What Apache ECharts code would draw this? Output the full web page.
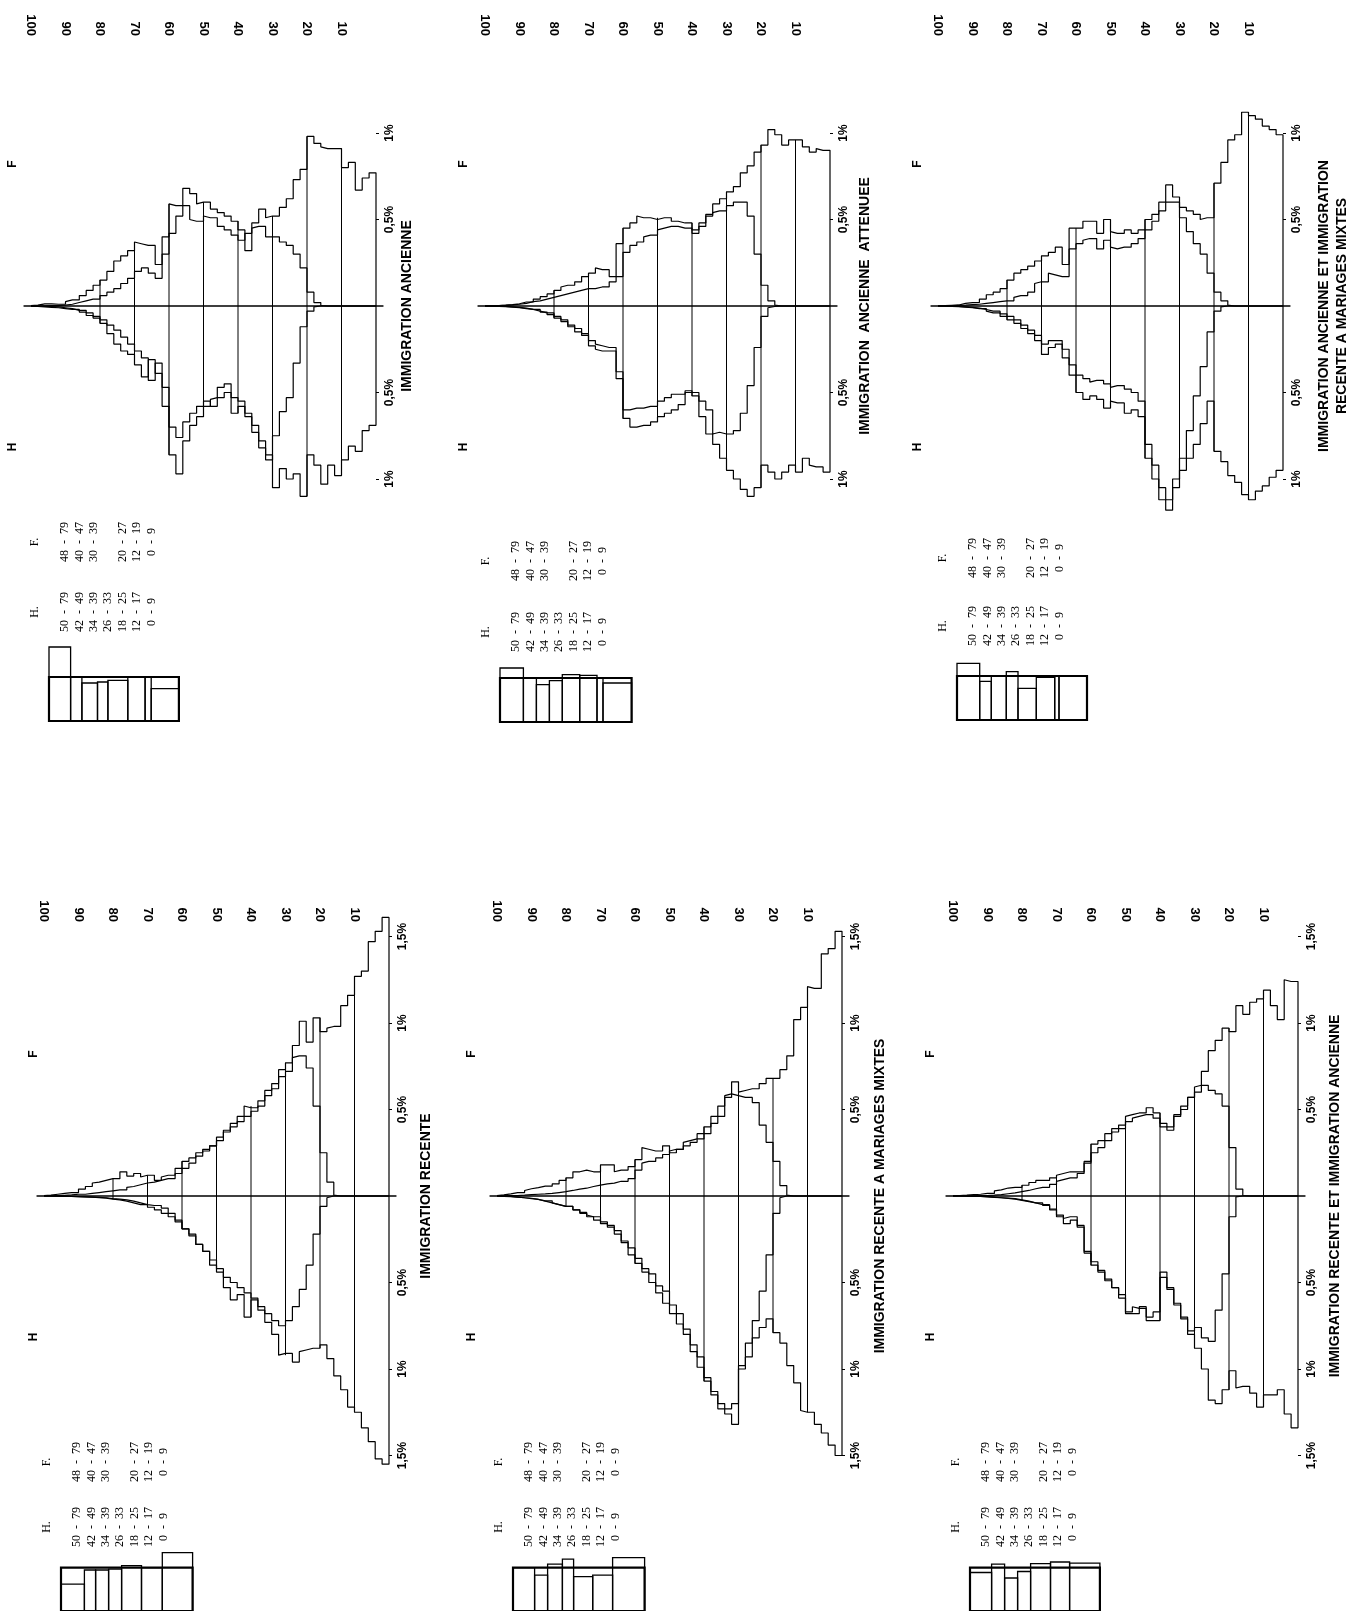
<!DOCTYPE html>
<html>
<head>
<meta charset="utf-8">
<script src="https://cdn.jsdelivr.net/npm/echarts@6/dist/echarts.min.js"></script>
<style>
  html, body { margin: 0; padding: 0; background: #fff; }
  #chart { width: 1357px; height: 1611px; }
</style>
</head>
<body>
<div id="chart"></div>
<script>
// start of each 2-year age class
const ageBins = [0,2,4,6,8,10,12,14,16,18,20,22,24,26,28,30,32,34,36,38,40,42,44,46,48,
  50,52,54,56,58,60,62,64,66,68,70,72,74,76,78,80,82,84,86,88,90,92,94,96,98];
const ageTickLabels = [10,20,30,40,50,60,70,80,90,100];
const decadeAges = [10,20,30,40,50,60,70,80];
const pctTicksTop = [-1,-0.5,0.5,1];
const pctTicksBottom = [-1.5,-1,-0.5,0.5,1,1.5];

// share of each age class, in %. *1 = population with children, *2 = immigrant cohort
const ancF1 = [0.77,0.74,0.67,0.83,0.80,0.91,0.91,0.92,0.94,0.98,0.79,0.73,0.62,0.57,0.52,0.51,0.56,0.48,0.32,0.44,
  0.49,0.52,0.54,0.56,0.60,0.59,0.65,0.68,0.58,0.59,0.40,0.24,0.35,0.36,0.37,0.32,0.29,0.26,0.20,0.15,
  0.12,0.09,0.06,0.035,0.025,0.01,0.012,0.012,0.005,0.003];
const ancF2 = [0,0,0,0,0,0,0,0.003,0.02,0.08,0.22,0.30,0.35,0.37,0.40,0.40,0.46,0.45,0.42,0.38,
  0.41,0.44,0.46,0.51,0.52,0.49,0.50,0.58,0.52,0.42,0.30,0.16,0.19,0.22,0.20,0.16,0.13,0.10,0.08,0.06,
  0.04,0.03,0.02,0.01,0.005,0.003,0.002,0.001,0,0];
const ancH1 = [0.69,0.72,0.84,0.81,0.89,0.98,0.92,1.03,0.92,0.86,1.10,0.97,1.00,0.94,1.05,0.86,0.82,0.73,0.64,0.58,
  0.62,0.50,0.53,0.54,0.58,0.64,0.69,0.78,0.97,0.86,0.58,0.39,0.31,0.41,0.34,0.28,0.26,0.22,0.16,0.10,
  0.07,0.055,0.035,0.02,0.015,0.01,0.008,0.005,0.003,0.002];
const ancH2 = [0,0,0,0,0,0,0,0,0.005,0.03,0.12,0.33,0.53,0.61,0.75,0.89,0.78,0.69,0.62,0.55,
  0.53,0.45,0.47,0.58,0.55,0.58,0.62,0.67,0.76,0.70,0.47,0.33,0.43,0.30,0.26,0.22,0.18,0.14,0.11,0.08,
  0.06,0.04,0.025,0.015,0.01,0.005,0.003,0.002,0.001,0];

const attF1 = [0.90,0.91,0.89,0.92,0.96,0.96,0.93,0.99,1.02,0.93,0.89,0.81,0.77,0.69,0.66,0.62,0.59,0.53,0.48,0.44,
  0.48,0.49,0.49,0.51,0.50,0.51,0.51,0.52,0.48,0.45,0.36,0.17,0.21,0.22,0.19,0.17,0.14,0.12,0.11,0.09,
  0.07,0.054,0.04,0.023,0.013,0.008,0.005,0.003,0.002,0.001];
const attF2 = [0,0,0,0,0,0,0,0.005,0.03,0.12,0.30,0.52,0.60,0.60,0.58,0.55,0.54,0.52,0.46,0.42,
  0.45,0.46,0.46,0.45,0.44,0.41,0.40,0.37,0.35,0.31,0.17,0.14,0.11,0.10,0.10,0.09,0.08,0.07,0.06,0.05,
  0.04,0.03,0.025,0.015,0.01,0.006,0.004,0.002,0.001,0.001];
const attH1 = [0.96,0.93,0.92,0.88,0.96,0.92,0.96,1.00,0.96,0.92,1.05,1.10,1.06,1.00,0.95,0.88,0.80,0.74,0.64,0.50,
  0.50,0.57,0.60,0.62,0.64,0.67,0.69,0.70,0.70,0.65,0.42,0.26,0.26,0.25,0.23,0.17,0.15,0.12,0.09,0.07,
  0.05,0.035,0.02,0.015,0.01,0.006,0.004,0.002,0.001,0];
const attH2 = [0,0,0,0,0,0,0,0.003,0.01,0.06,0.24,0.46,0.62,0.72,0.74,0.73,0.74,0.60,0.55,0.52,
  0.49,0.51,0.51,0.53,0.55,0.58,0.59,0.59,0.60,0.60,0.38,0.24,0.23,0.22,0.20,0.16,0.13,0.11,0.08,0.06,
  0.04,0.03,0.02,0.012,0.008,0.005,0.003,0.002,0.001,0];

const ancMixF1 = [0.99,1.02,1.04,1.08,1.10,1.12,0.99,0.96,0.83,0.71,0.51,0.50,0.53,0.55,0.57,0.63,0.70,0.60,0.53,0.50,
  0.44,0.42,0.44,0.42,0.43,0.50,0.42,0.49,0.49,0.45,0.45,0.24,0.34,0.31,0.29,0.26,0.23,0.21,0.19,0.15,
  0.10,0.08,0.065,0.04,0.02,0.015,0.006,0.004,0.002,0.001];
const ancMixF2 = [0,0,0,0,0,0,0,0.005,0.03,0.08,0.19,0.30,0.36,0.43,0.51,0.60,0.60,0.55,0.49,0.44,
  0.39,0.36,0.34,0.33,0.34,0.38,0.33,0.39,0.38,0.36,0.33,0.17,0.18,0.19,0.14,0.13,0.08,0.06,0.05,0.03,
  0.025,0.02,0.015,0.01,0.008,0.005,0.003,0.002,0.001,0];
const ancMixH1 = [0.95,0.99,1.04,1.07,1.12,1.09,1.02,0.98,0.90,0.84,0.55,0.68,0.80,0.88,0.95,1.05,1.18,1.12,1.00,0.88,
  0.64,0.60,0.62,0.56,0.55,0.59,0.54,0.52,0.54,0.50,0.40,0.30,0.22,0.24,0.28,0.20,0.16,0.13,0.10,0.08,
  0.06,0.04,0.03,0.015,0.01,0.006,0.004,0.002,0.001,0];
const ancMixH2 = [0,0,0,0,0,0,0,0,0.005,0.03,0.15,0.35,0.52,0.72,0.88,1.00,1.12,1.05,0.92,0.80,
  0.55,0.50,0.48,0.46,0.47,0.45,0.43,0.44,0.42,0.40,0.34,0.25,0.20,0.20,0.22,0.17,0.14,0.11,0.08,0.06,
  0.045,0.03,0.02,0.012,0.008,0.005,0.003,0.001,0,0];

const recF1 = [1.61,1.53,1.47,1.30,1.27,1.16,1.10,0.98,0.97,0.95,1.03,0.89,1.01,0.87,0.77,0.73,0.65,0.61,0.55,0.51,
  0.52,0.46,0.42,0.38,0.34,0.29,0.27,0.25,0.22,0.20,0.16,0.12,0.11,0.09,0.12,0.11,0.13,0.115,0.14,0.10,
  0.09,0.08,0.075,0.055,0.04,0.02,0.015,0.01,0.005,0.003];
const recF2 = [0,0,0,0,0,0,0,0.005,0.08,0.25,0.52,0.74,0.81,0.80,0.72,0.69,0.62,0.58,0.52,0.49,
  0.46,0.43,0.40,0.37,0.32,0.29,0.26,0.23,0.19,0.16,0.13,0.10,0.09,0.08,0.075,0.065,0.055,0.05,0.035,0.03,
  0.025,0.02,0.015,0.01,0.01,0.006,0.004,0.002,0.001,0];
const recH1 = [1.55,1.52,1.42,1.34,1.25,1.22,1.12,1.04,0.94,0.86,0.88,0.89,0.90,0.96,0.91,0.92,0.80,0.73,0.66,0.60,
  0.70,0.57,0.60,0.53,0.44,0.40,0.32,0.28,0.22,0.19,0.14,0.10,0.07,0.055,0.05,0.04,0.03,0.022,0.018,0.015,
  0.01,0.008,0.006,0.005,0.004,0.003,0.002,0.001,0,0];
const recH2 = [0,0,0,0,0,0,0,0,0.01,0.06,0.22,0.40,0.54,0.64,0.72,0.75,0.72,0.68,0.64,0.59,
  0.56,0.53,0.50,0.47,0.42,0.37,0.32,0.28,0.23,0.19,0.15,0.12,0.10,0.08,0.065,0.05,0.04,0.03,0.022,0.018,
  0.012,0.01,0.007,0.005,0.004,0.003,0.002,0.001,0,0];

const recMixF1 = [1.53,1.43,1.40,1.20,1.21,1.09,1.02,0.81,0.73,0.68,0.68,0.65,0.62,0.61,0.60,0.66,0.57,0.46,0.42,0.36,
  0.33,0.32,0.31,0.27,0.25,0.29,0.26,0.27,0.28,0.21,0.17,0.15,0.14,0.18,0.18,0.14,0.15,0.14,0.14,0.105,
  0.09,0.07,0.057,0.048,0.042,0.032,0.02,0.012,0.006,0.003];
const recMixF2 = [0,0,0,0,0,0,0,0.005,0.06,0.20,0.31,0.41,0.54,0.57,0.58,0.59,0.58,0.52,0.46,0.40,
  0.36,0.31,0.29,0.27,0.26,0.24,0.22,0.20,0.19,0.15,0.10,0.085,0.074,0.07,0.063,0.055,0.045,0.04,0.032,0.025,
  0.02,0.015,0.012,0.01,0.008,0.005,0.003,0.002,0.001,0];
const recMixH1 = [1.50,1.44,1.37,1.32,1.25,1.24,1.08,0.98,0.85,0.79,0.71,0.76,0.82,0.93,1.00,1.20,1.23,1.20,1.13,1.05,
  0.93,0.86,0.77,0.68,0.63,0.55,0.52,0.45,0.42,0.36,0.30,0.26,0.20,0.17,0.15,0.12,0.11,0.095,0.08,0.06,
  0.05,0.04,0.028,0.02,0.015,0.01,0.007,0.004,0.002,0.001];
const recMixH2 = [0,0,0,0,0,0,0,0,0.01,0.10,0.34,0.55,0.72,0.85,0.98,1.32,1.26,1.23,1.15,1.07,
  0.99,0.90,0.80,0.74,0.68,0.62,0.56,0.50,0.44,0.39,0.34,0.27,0.22,0.18,0.16,0.14,0.12,0.10,0.08,0.06,
  0.05,0.04,0.03,0.02,0.013,0.01,0.006,0.003,0.001,0];

const recAncF1 = [1.24,1.25,1.02,1.10,1.19,1.14,1.12,1.05,1.10,0.95,0.97,0.90,0.84,0.72,0.60,0.57,0.52,0.47,0.40,0.42,
  0.48,0.51,0.48,0.47,0.46,0.41,0.39,0.36,0.32,0.30,0.20,0.14,0.14,0.13,0.12,0.105,0.09,0.09,0.078,0.062,
  0.05,0.046,0.035,0.03,0.015,0.01,0.008,0.005,0.003,0.001];
const recAncF2 = [0,0,0,0,0,0,0,0.003,0.04,0.28,0.52,0.59,0.61,0.64,0.63,0.57,0.50,0.46,0.38,0.40,
  0.45,0.47,0.46,0.45,0.43,0.39,0.37,0.32,0.28,0.25,0.19,0.13,0.105,0.095,0.085,0.067,0.05,0.042,0.032,0.025,
  0.018,0.013,0.008,0.005,0.003,0.002,0.001,0,0,0];
const recAncH1 = [1.34,1.26,1.12,1.15,1.15,1.22,1.14,1.10,1.11,1.01,1.12,1.20,1.18,1.00,0.88,0.80,0.70,0.62,0.54,0.47,
  0.72,0.72,0.64,0.68,0.68,0.57,0.53,0.48,0.43,0.38,0.32,0.17,0.14,0.16,0.12,0.075,0.05,0.04,0.03,0.022,
  0.015,0.012,0.01,0.008,0.005,0.003,0.002,0.001,0,0];
const recAncH2 = [0,0,0,0,0,0,0,0,0.005,0.12,0.45,0.66,0.84,0.82,0.76,0.78,0.71,0.63,0.53,0.44,
  0.67,0.70,0.65,0.64,0.67,0.59,0.53,0.49,0.44,0.40,0.33,0.18,0.12,0.13,0.11,0.08,0.055,0.04,0.033,0.025,
  0.018,0.014,0.01,0.007,0.004,0.002,0.001,0,0,0];

// legend boxes: [from, to, height]; reference level is the full-width box
const legendRef = 44;
const legA = [[0,21.6,74],[21.6,32.9,44],[32.9,48.5,38],[48.5,58.9,39],[58.9,78.8,40.7],[78.8,96.1,44],[96.1,102.2,44],[102.2,129.9,32.3]];
const legB = [[0,23.4,54],[23.4,36.4,44],[36.4,49.4,37.3],[49.4,62.3,41.3],[62.3,79.7,47.3],[79.7,97,46.7],[97,103,44],[103,131.6,39]];
const legC = [[0,22.7,56.7],[22.7,34.3,38.7],[34.3,49.3,44.3],[49.3,61,48.3],[61,79.3,31.7],[79.3,97.7,42.7],[97.7,102,44.3],[102,130,44.3]];
const legD = [[0,23.4,27.3],[23.4,34.6,41.5],[34.6,47.6,41.5],[47.6,60.6,42.5],[60.6,80.5,46],[80.5,101.3,44],[101.3,131.6,59.2]];
const legE = [[0,21.6,44],[21.6,34.6,36.4],[34.6,49.4,47.5],[49.4,60.6,52.6],[60.6,79.7,34.9],[79.7,99.6,36.4],[99.6,131.6,54.1]];
const legF = [[0,21.6,39],[21.6,34.6,47.5],[34.6,47.6,33.4],[47.6,60.6,40],[60.6,80.5,48],[80.5,99.6,49.6],[99.6,129.9,48.5]];
const classesH = ['50 - 79','42 - 49','34 - 39','26 - 33','18 - 25','12 - 17','0 - 9'];
const classesF = ['48 - 79','40 - 47','30 - 39','','20 - 27','12 - 19','0 - 9'];

const SANS = '"Liberation Sans", Arial, sans-serif';
const SERIF = '"Liberation Serif", "Times New Roman", serif';
const PX_YEAR = 3.45, PX_PCT = 173, AGE_MIN = -2, AGE_MAX = 102;

const pyramids = [
  { title: ['IMMIGRATION ANCIENNE'], f: [ancF1, ancF2], h: [ancH1, ancH2], age0: 376, axisY: 306, span: 1.3, ticks: pctTicksTop, labelAxisY: 36, titleX: [407], letterX: 13 },
  { title: ['IMMIGRATION  ANCIENNE  ATTENUEE'], f: [attF1, attF2], h: [attH1, attH2], age0: 830, axisY: 306, span: 1.3, ticks: pctTicksTop, labelAxisY: 36, titleX: [865], letterX: 464 },
  { title: ['IMMIGRATION ANCIENNE ET IMMIGRATION', 'RECENTE A MARIAGES MIXTES'], f: [ancMixF1, ancMixF2], h: [ancMixH1, ancMixH2], age0: 1283, axisY: 306, span: 1.3, ticks: pctTicksTop, labelAxisY: 36, titleX: [1324, 1342], letterX: 918 },
  { title: ['IMMIGRATION RECENTE'], f: [recF1, recF2], h: [recH1, recH2], age0: 389, axisY: 1196, span: 1.7, ticks: pctTicksBottom, labelAxisY: 922, titleX: [426], letterX: 34 },
  { title: ['IMMIGRATION RECENTE A MARIAGES MIXTES'], f: [recMixF1, recMixF2], h: [recMixH1, recMixH2], age0: 842, axisY: 1196, span: 1.7, ticks: pctTicksBottom, labelAxisY: 922, titleX: [880], letterX: 472 },
  { title: ['IMMIGRATION RECENTE ET IMMIGRATION ANCIENNE'], f: [recAncF1, recAncF2], h: [recAncH1, recAncH2], age0: 1298, axisY: 1196, span: 1.7, ticks: pctTicksBottom, labelAxisY: 922, titleX: [1335], letterX: 931 }
];

const legends = [
  { bars: legA, x0: 49, bottom: 721, fY: 542, hY: 612 },
  { bars: legB, x0: 500, bottom: 722, fY: 561, hY: 632 },
  { bars: legC, x0: 957, bottom: 720, fY: 558, hY: 626 },
  { bars: legD, x0: 61, bottom: 1612, fY: 1462, hY: 1527 },
  { bars: legE, x0: 513, bottom: 1612, fY: 1462, hY: 1527 },
  { bars: legF, x0: 970, bottom: 1612, fY: 1462, hY: 1527 }
];

function textEl(x, y, text, font) {
  return { type: 'text', x, y, rotation: Math.PI / 2, silent: true,
    style: { text, font, fill: '#000', align: 'center', verticalAlign: 'middle', textAlign: 'center', textVerticalAlign: 'middle' } };
}

const grids = [], xAxes = [], yAxes = [], series = [], graphics = [];

pyramids.forEach((p, i) => {
  const width = (AGE_MAX - AGE_MIN) * PX_YEAR;
  const left = p.age0 - AGE_MAX * PX_YEAR;
  const top = p.axisY - p.span * PX_PCT;
  grids.push({ left, top, width, height: 2 * p.span * PX_PCT });

  const xi = xAxes.length;
  xAxes.push({
    gridIndex: i, type: 'value', min: AGE_MIN, max: AGE_MAX, inverse: true,
    axisLine: { onZero: true, lineStyle: { color: '#000', width: 1.6 } },
    axisTick: { show: false }, axisLabel: { show: false }, splitLine: { show: false }
  });
  xAxes.push({
    gridIndex: i, type: 'value', min: AGE_MIN, max: AGE_MAX, inverse: true,
    position: 'top', offset: top - p.labelAxisY,
    axisLine: { show: false, onZero: false }, axisTick: { show: false }, splitLine: { show: false },
    axisLabel: { customValues: ageTickLabels, rotate: 90, margin: 0, color: '#000',
      fontFamily: SANS, fontWeight: 'bold', fontSize: 13 }
  });
  yAxes.push({
    gridIndex: i, type: 'value', min: -p.span, max: p.span, position: 'right',
    axisLine: { show: false }, splitLine: { show: false },
    axisTick: { show: true, customValues: p.ticks, length: 3, lineStyle: { color: '#000' } },
    axisLabel: { customValues: p.ticks, rotate: 90, margin: 1, color: '#000',
      fontFamily: SANS, fontWeight: 'bold', fontSize: 12,
      formatter: v => String(Math.abs(v)).replace('.', ',') + '%' }
  });

  const curves = [[p.f[0], 1], [p.f[1], 1], [p.h[0], -1], [p.h[1], -1]];
  curves.forEach(([vals, sign]) => {
    const data = [[0, 0]];
    vals.forEach((v, k) => data.push([ageBins[k], sign * v]));
    data.push([100, 0]);
    series.push({ type: 'line', xAxisIndex: xi, yAxisIndex: i, step: 'end', data,
      symbol: 'none', silent: true, lineStyle: { color: '#000', width: 1.2 } });
  });

  // decade rules, from the outer H curve to the outer F curve
  const peak = (arrs, a) => Math.max(...arrs.map(arr => Math.max(arr[a / 2 - 1], arr[a / 2])));
  series.push({
    type: 'custom', xAxisIndex: xi, yAxisIndex: i, silent: true,
    data: decadeAges.map(a => [a, -peak(p.h, a), peak(p.f, a)]),
    renderItem: (params, api) => {
      const p0 = api.coord([api.value(0), api.value(1)]);
      const p1 = api.coord([api.value(0), api.value(2)]);
      return { type: 'line', shape: { x1: p0[0], y1: p0[1], x2: p1[0], y2: p1[1] },
        style: { stroke: '#000', lineWidth: 1 } };
    }
  });

  p.title.forEach((t, j) => graphics.push(textEl(p.titleX[j], p.axisY, t, 'bold 14px ' + SANS)));
  graphics.push(textEl(p.letterX, p.axisY - 142, 'F', 'bold 12px ' + SANS));
  graphics.push(textEl(p.letterX, p.axisY + 141, 'H', 'bold 12px ' + SANS));
});

legends.forEach(lg => {
  const gi = grids.length;
  grids.push({ left: lg.x0, top: lg.bottom - 80, width: 132, height: 80 });
  const xi = xAxes.length, yi = yAxes.length;
  xAxes.push({ gridIndex: gi, type: 'value', min: 0, max: 132, show: false });
  yAxes.push({ gridIndex: gi, type: 'value', min: 0, max: 80, show: false });
  const full = lg.bars[lg.bars.length - 1][1];
  series.push({
    type: 'custom', xAxisIndex: xi, yAxisIndex: yi, silent: true, clip: false,
    data: [[0, full, legendRef, 2.2]].concat(lg.bars.map(b => [b[0], b[1], b[2], 1.3])),
    renderItem: (params, api) => {
      const a = api.coord([api.value(0), 0]);
      const b = api.coord([api.value(1), api.value(2)]);
      return { type: 'rect', shape: { x: a[0], y: b[1], width: b[0] - a[0], height: a[1] - b[1] },
        style: { fill: 'none', stroke: '#000', lineWidth: api.value(3) } };
    }
  });

  const font = '12px ' + SERIF;
  graphics.push(textEl(lg.x0 - 14, lg.fY, 'F.', font));
  graphics.push(textEl(lg.x0 - 14, lg.hY, 'H.', font));
  classesF.forEach((t, c) => { if (t) graphics.push(textEl(lg.x0 + 16 + 14.4 * c, lg.fY, t.replace(' - ', '  -  '), font)); });
  classesH.forEach((t, c) => graphics.push(textEl(lg.x0 + 16 + 14.4 * c, lg.hY, t.replace(' - ', '  -  '), font)));
});

const chart = echarts.init(document.getElementById('chart'), null, { renderer: 'canvas' });
chart.setOption({
  animation: false,
  backgroundColor: '#fff',
  grid: grids,
  xAxis: xAxes,
  yAxis: yAxes,
  series,
  graphic: { elements: graphics }
});
</script>
</body>
</html>
